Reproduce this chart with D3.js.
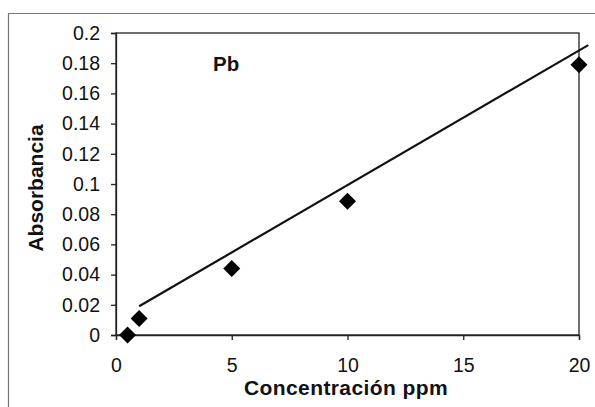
<html>
<head>
<style>
  body { margin: 0; background: #fff; }
  svg text { font-family: Arial, "Liberation Sans", sans-serif; fill: #111; }
</style>
</head>
<body>
<div id="container"></div>
<script src="https://d3js.org/d3.v7.min.js"></script>
<script>
// data
var concentration = [0.5, 1, 5, 10, 20];
var absorbance = [0.0, 0.011, 0.044, 0.0885, 0.179];
var trendX = [1, 20.4];
var trendY = [0.019, 0.192];
var xTicks = [0, 5, 10, 15, 20];
var yTicks = [0, 0.02, 0.04, 0.06, 0.08, 0.1, 0.12, 0.14, 0.16, 0.18, 0.2];
var yTickLabels = ["0", "0.02", "0.04", "0.06", "0.08", "0.1", "0.12", "0.14", "0.16", "0.18", "0.2"];

var W = 595, H = 407;
var margin = {top: 33, right: 16, bottom: 72, left: 116};
var width = W - margin.left - margin.right,
    height = H - margin.top - margin.bottom;

var svg = d3.select("#container").append("svg")
    .attr("width", W).attr("height", H);

// outer chart frame (only left and top edges are visible)
svg.append("path")
    .attr("d", "M8.5," + H + "V13.5H" + W)
    .attr("fill", "none")
    .attr("stroke", "#777")
    .attr("stroke-width", 1.2);

var g = svg.append("g").attr("transform", "translate(" + margin.left + "," + margin.top + ")");

var x = d3.scaleLinear().domain([0, 20]).range([0, width]);
var y = d3.scaleLinear().domain([0, 0.2]).range([height, 0]);

// plot box
g.append("rect")
    .attr("width", width).attr("height", height)
    .attr("fill", "none")
    .attr("stroke", "#222")
    .attr("stroke-width", 1.3);

var xAxis = g.append("g")
    .attr("transform", "translate(0," + height + ")")
    .call(d3.axisBottom(x).tickValues(xTicks).tickSize(5).tickPadding(18));

var yAxis = g.append("g")
    .call(d3.axisLeft(y).tickValues(yTicks).tickSize(5).tickPadding(11)
      .tickFormat(function(d, i) { return yTickLabels[i]; }));

[xAxis, yAxis].forEach(function(a) {
  a.select(".domain").attr("stroke", "#222").attr("stroke-width", 1.3);
  a.selectAll(".tick line").attr("stroke", "#222").attr("stroke-width", 1.3);
  a.selectAll("text").attr("font-size", 19.5).attr("fill", "#1a1a1a");
});

// trend line
g.append("line")
    .attr("x1", x(trendX[0])).attr("y1", y(trendY[0]))
    .attr("x2", x(trendX[1])).attr("y2", y(trendY[1]))
    .attr("stroke", "#111")
    .attr("stroke-width", 2.2);

// markers
g.selectAll(".pt")
    .data(concentration)
    .enter().append("path")
    .attr("class", "pt")
    .attr("transform", function(d, i) { return "translate(" + x(d) + "," + y(absorbance[i]) + ")"; })
    .attr("d", "M0,-8.5L8.5,0L0,8.5L-8.5,0Z")
    .attr("fill", "#000");

// labels
g.append("text")
    .attr("x", 97).attr("y", 38)
    .attr("font-size", 20.5).attr("font-weight", "bold")
    .text("Pb");

svg.append("text")
    .attr("x", 346)
    .attr("y", 395)
    .attr("text-anchor", "middle")
    .attr("font-size", 21).attr("font-weight", "bold")
    .attr("letter-spacing", 0.4)
    .text("Concentración ppm");

svg.append("text")
    .attr("transform", "translate(43,188) rotate(-90)")
    .attr("text-anchor", "middle")
    .attr("font-size", 21).attr("font-weight", "bold")
    .text("Absorbancia");
</script>
</body>
</html>
